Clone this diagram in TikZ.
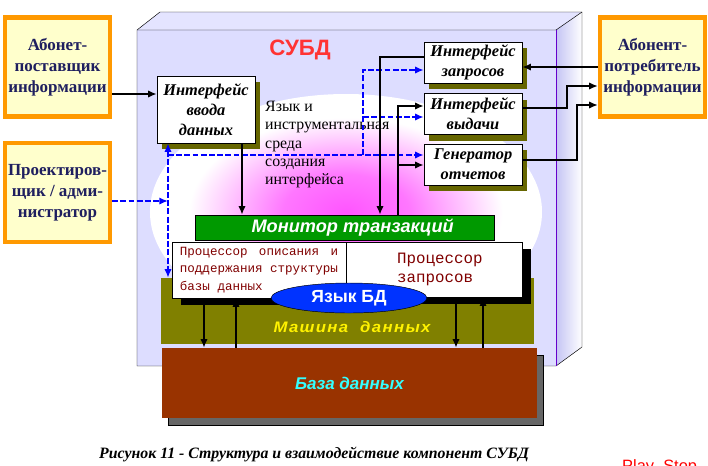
\documentclass[tikz,border=0pt]{standalone}
\usepackage{fontspec}
\setmainfont{Liberation Serif}
\setsansfont{Liberation Sans}
\setmonofont{Liberation Mono}
\usepackage{xcolor}
\usepackage{graphicx}
\usepackage{tikz}
\usetikzlibrary{arrows.meta,positioning,shadows,shapes.geometric}
\definecolor{abfill}{HTML}{FFFFCC}
\definecolor{aborange}{HTML}{FF9900}
\definecolor{abtext}{HTML}{1F1F5F}
\definecolor{cubefront}{HTML}{DDDDFF}
\definecolor{cubetop}{HTML}{E4E4FF}
\definecolor{cubeside}{HTML}{C4C4F4}
\definecolor{cubeedge}{HTML}{6600CC}
\definecolor{glowmag}{HTML}{FF55FF}
\definecolor{subdred}{HTML}{FF3333}
\definecolor{shadolive}{HTML}{666600}
\definecolor{monigreen}{HTML}{009900}
\definecolor{procred}{HTML}{800000}
\definecolor{langblue}{HTML}{0033FF}
\definecolor{machine}{HTML}{808000}
\definecolor{dbbrown}{HTML}{993300}
\definecolor{dbshadow}{HTML}{666666}
\definecolor{dbtext}{HTML}{33FFFF}
\definecolor{flowblue}{HTML}{0000FF}
\pgfdeclareradialshading{glow}{\pgfpoint{0bp}{0bp}}{color(0bp)=(glowmag); color(8bp)=(glowmag!80!white); color(20bp)=(white); color(50bp)=(white)}
\tikzset{
  >={Latex[length=2.6mm,width=2.2mm]},
  abon/.style={draw=aborange,line width=3.6pt,fill=abfill,text=abtext,align=center,inner sep=0pt,
    minimum width=3.15cm,minimum height=2.97cm,font=\fontsize{14.5}{18}\selectfont\bfseries},
  iface/.style={draw=black,thin,fill=white,align=center,inner sep=0pt,minimum width=2.94cm,minimum height=1.23cm,
    font=\fontsize{14}{17}\selectfont\bfseries\itshape,
    drop shadow={shadow xshift=0.15cm,shadow yshift=-0.18cm,fill=shadolive,opacity=1}},
  proc/.style={draw=black,thin,fill=white,inner sep=0pt,text=procred,
    drop shadow={shadow xshift=0.28cm,shadow yshift=-0.2cm,fill=black,opacity=1}},
  subd/.style={text=subdred,font=\fontsize{19}{22}\selectfont\sffamily\bfseries},
  sreda/.style={align=left,inner sep=0pt,font=\fontsize{13.5}{15.6}\selectfont},
  monbar/.style={draw=black,thin,fill=monigreen,text=white,inner sep=0pt,minimum width=8.97cm,minimum height=0.75cm,
    font=\fontsize{15.5}{18}\selectfont\sffamily\bfseries\itshape},
  lang/.style={ellipse,draw=black,thin,fill=langblue,text=white,inner sep=0pt,minimum width=4.68cm,minimum height=0.9cm,
    font=\fontsize{15}{18}\selectfont\sffamily\bfseries},
  machbox/.style={fill=machine,inner sep=0pt,minimum width=11.19cm,minimum height=1.98cm},
  machtxt/.style={text=yellow,inner sep=0pt,font=\fontsize{13}{15}\selectfont\sffamily\bfseries\itshape},
  dbbox/.style={fill=dbbrown,text=dbtext,inner sep=0pt,minimum width=11.25cm,minimum height=2.1cm,
    font=\fontsize{14.5}{17}\selectfont\sffamily\bfseries\itshape,
    drop shadow={shadow xshift=0.18cm,shadow yshift=-0.21cm,fill=dbshadow,draw=black,opacity=1}},
  capt/.style={inner sep=0pt,font=\fontsize{13.5}{16}\selectfont\bfseries\itshape},
  arr/.style={->,line width=2.5pt},
  arrthin/.style={->,line width=2pt},
  barr/.style={->,line width=2.5pt,flowblue,dash pattern=on 5pt off 2pt},
}
\begin{document}
\begin{tikzpicture}[x=0.03cm,y=-0.03cm]
\useasboundingbox (0,0) rectangle (708,465);
% the DBMS cube
\fill[cubetop] (137,30) -- (160,12) -- (582,12) -- (556,30) -- cycle;
\shade[left color=cubeside,right color=white] (556,30) -- (582,12) -- (582,347) -- (556,366) -- cycle;
\fill[cubefront] (137,30) rectangle (556,366);
\shade[shading=glow] (346,212) ellipse [x radius=5.88cm,y radius=3.54cm];
\draw[thin] (137,366) -- (137,30) -- (160,12) -- (582,12) -- (582,347) -- (556,366) -- cycle;
\draw[thin] (137,30) -- (556,30) -- (582,12);
\draw[thin,cubeedge] (556,30) -- (556,366);
\node[subd] (subd) at (300,50) {СУБД};

% users
\node[abon] (abon1) at (57.5,67) {Абонет-\\поставщик\\информации};
\node[abon] (proekt) at (57.5,192.5) {Проектиров-\\щик / адми-\\нистратор};
\node[abon] (abon2) at (652.5,67) {Абонент-\\потребитель\\информации};

% lower layers
\node[machbox] (mashina) at (347.5,311) {};
\node[machtxt] (mashtxt) at (352,327) {\scalebox{1.1}[1]{\addfontfeatures{LetterSpace=8}Машина\ \ данных}};
\node[dbbox] (baza) at (349.5,383) {База данных};
\node[proc,minimum width=5.22cm,minimum height=1.68cm,font=\fontsize{10.7}{14.9}\selectfont\ttfamily,align=left]
  (procopis) at (259,270)
  {\makebox[135pt][l]{Процессор\hfill описания\hfill и}\\поддержания структуры\\базы данных};
\node[proc,minimum width=5.28cm,minimum height=1.65cm,font=\fontsize{13.5}{15.5}\selectfont\ttfamily,align=left]
  (proczap) at (434,269.5) {\hspace*{10pt}Процессор\\\hspace*{10pt}запросов};
\node[lang] (yazyk) at (349,298) {Язык БД};
\node[monbar] (monitor) at (344.5,227.5) {\hspace*{14pt}Монитор транзакций};

% interfaces
\node[iface,minimum height=2.01cm] (vvod) at (206,109.5) {Интерфейс\\ввода\\данных};
\node[iface] (zapros) at (473,62.5) {Интерфейс\\запросов};
\node[iface] (vydacha) at (473,114) {Интерфейс\\выдачи};
\node[iface] (gener) at (473,164.5) {Генератор\\отчетов};
\node[sreda,anchor=north west] (sreda) at (265,101) {Язык и\\инструментальная\\среда\\создания\\интерфейса};

% blue dashed flows
\coordinate (bv) at (168,201);
\coordinate (bh) at (168,155);
\coordinate (bx) at (363,155);
\draw[barr] (proekt.east |- bv) -- (bv);
\draw[barr,<->] (bv |- vvod.south) -- (bv |- mashina.north);
\draw[barr] (bh) -- (bh -| gener.west);
\draw[barr] (bx) |- (zapros.west |- 0,70);
\draw[barr] (bx |- 0,117) -- (vydacha.west |- 0,117);

% black flows
\draw[arr] (abon1.east |- 0,94) -- (vvod.west |- 0,94);
\draw[arr] (vvod.south -| 242,0) -- (monitor.north -| 242,0);
\draw[arr] (zapros.west |- 0,57) -| (monitor.north -| 380,0);
\coordinate (mx) at (398,165);
\draw[arr] (monitor.north -| mx) |- (vydacha.west |- 0,106);
\draw[arr] (mx) -- (mx -| gener.west);
\draw[arr] (abon2.west) -- (zapros.east |- abon2.west);
\draw[arr] (vydacha.east |- 0,108) -| (567,86) -- (abon2.west |- 0,86);
\draw[arr] (gener.east |- 0,160) -| (577,105) -- (abon2.west |- 0,105);
\draw[arrthin] (procopis.south -| 204,0) -- (baza.north -| 204,0);
\draw[arrthin] (baza.north -| 236,0) -- (procopis.south -| 236,0);
\draw[arrthin] (proczap.south -| 456,0) -- (baza.north -| 456,0);
\draw[arrthin] (baza.north -| 483,0) -- (proczap.south -| 483,0);

\node[capt] (caption) at (314,454) {Рисунок 11 - Структура и взаимодействие компонент СУБД};
\node[anchor=north west,inner sep=0pt,text=red,font=\fontsize{14}{16}\selectfont\sffamily] (play) at (622,459.5) {Play~~Stop};
\end{tikzpicture}
\end{document}
